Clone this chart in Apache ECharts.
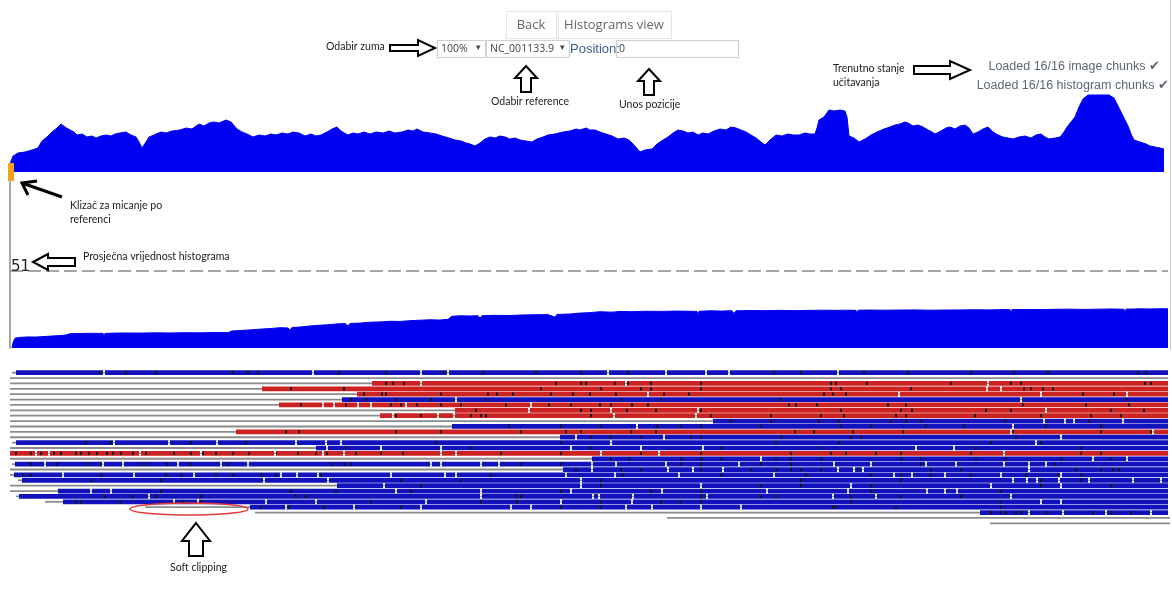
<!DOCTYPE html>
<html><head><meta charset="utf-8">
<script src="https://cdn.jsdelivr.net/npm/echarts@6/dist/echarts.min.js"></script>
<style>html,body{margin:0;padding:0;background:#fff}#c{width:1172px;height:601px}</style>
</head><body><div id="c"></div>
<script>
// ---------- DATA ----------
// Coverage overview (top): position along reference, coverage height
const topPos = [10,13,18,25,32,38,42,47,52,57,61,65,70,74,77,82,87,92,96,101,106,111,115,120,126,131,136,139,142,146,149,154,161,166,172,180,186,192,199,204,209,214,219,226,231,237,242,247,253,259,265,271,276,282,288,293,299,305,311,316,321,327,332,337,341,348,353,358,364,370,376,383,389,395,402,408,413,417,423,430,436,442,449,455,461,466,470,475,480,485,490,495,500,505,510,515,520,526,532,537,543,548,555,563,570,576,580,586,590,595,600,606,612,618,624,629,634,640,645,652,657,663,668,673,678,683,688,693,698,703,708,714,720,726,731,736,741,746,751,756,761,765,770,776,782,788,793,799,805,810,815,817,819,824,829,834,840,845,847,849,854,859,865,871,877,884,890,895,900,905,908,913,918,923,928,932,935,941,946,950,955,960,965,969,973,978,983,988,993,998,1003,1008,1013,1019,1025,1031,1036,1041,1045,1049,1055,1060,1064,1067,1071,1075,1079,1083,1088,1095,1102,1109,1114,1117,1121,1125,1128,1131,1134,1140,1146,1150,1155,1160,1164];
const topCov = [8,16,19,20,22,24,31,35,40,44,48,45,42,40,37,38,35,36,34,36,37,36,38,39,40,37,35,30,24,30,35,37,40,39,41,42,44,43,48,46,49,50,49,52,50,43,40,38,35,37,36,38,37,39,38,40,39,36,38,36,37,40,43,45,41,37,39,38,40,38,40,39,41,39,40,42,41,43,40,39,38,36,34,32,31,29,28,26,29,33,35,34,36,35,33,34,32,31,30,33,35,37,38,40,41,43,42,44,42,42,40,38,36,33,34,32,27,20,22,23,28,32,35,39,42,41,39,40,37,39,38,41,43,42,45,44,42,40,37,34,30,27,32,37,36,38,37,37,39,38,38,44,52,55,62,61,62,61,55,36,34,30,33,37,40,43,45,47,48,50,49,46,47,45,42,40,38,41,44,45,43,46,47,44,38,40,43,45,40,37,35,34,33,35,36,34,37,38,35,33,34,35,40,45,50,55,65,73,77,77,77,77,74,68,60,52,46,38,32,30,28,26,25,24,23];

// Lower histogram (current window)
const histPos = [12,13,15,20,28,36,45,55,62,66,70,80,90,100,103,104,105,115,125,140,155,170,185,200,215,228,232,242,252,262,272,280,288,290,292,300,310,320,330,338,345,348,350,360,370,380,390,400,410,420,430,440,448,452,460,470,478,480,482,495,510,520,535,548,555,557,570,580,590,600,612,620,632,645,660,675,690,697,698,699,710,722,732,734,736,750,765,780,795,810,822,835,848,856,857,858,870,885,900,915,930,945,960,975,990,1002,1010,1011,1012,1025,1040,1055,1070,1085,1100,1112,1124,1125,1126,1140,1150,1160,1168];
const histVal = [0,3.5,6.5,7,7.3,7.2,7.6,8,8.3,8.6,9.4,9.5,9.7,9.6,9.7,7.5,9.6,9.8,9.9,9.8,10,9.9,10.1,10,10.2,10.1,11.2,11.6,12,12.5,12.9,13.4,13.2,11.8,13.5,13.8,14.5,15,15.4,15.9,16.1,14.6,16.2,16.4,17,17.2,17.6,17.5,18,18.3,18.6,18.4,18.9,20.9,21.2,21.1,21.3,19.6,21.3,21.5,21.4,21.7,21.9,22,20.3,22.1,22.4,23,23.3,23.9,23.6,24.1,23.9,24.2,24.1,24.3,24.2,24.1,21,24.2,24.5,24.3,24.6,22.6,24.5,24.7,24.6,24.8,24.6,24.8,24.9,24.8,24.9,24.8,22.2,24.9,25,24.9,25,25.1,24.9,25,25.1,25.2,25.1,25.3,25.2,22.5,25.3,25.4,25.3,25.5,25.6,25.4,25.6,25.7,25.5,22.8,25.6,25.8,25.7,25.9,25.8];
const histMean = 51;

// Reads (one entry per row): soft-clip span, aligned span, strand
const clipStart = [12,10,10,10,10,10,10,10,10,10,10,10,10,12,10,null,10,12,10,10,18,10,10,16,45,145,255,667,990];
const clipEnd   = [16,1168,372,262,357,342,279,455,380,713,452,236,560,16,316,null,592,15,563,14,22,337,58,19,63,250,980,1170,1170];
const readStart = [16,null,372,262,357,342,279,455,380,713,452,236,560,16,316,10,592,15,563,14,22,337,58,19,63,250,980,null,null];
const readEnd   = [1168,null,1168,1168,1168,1168,1168,1168,1168,1168,1168,1168,1168,1168,1168,1168,1168,1168,1168,1168,1168,1168,1168,1168,1168,1168,1168,null,null];
const strand    = ['F','','R','R','R','F','R','R','R','F','F','R','F','F','F','R','F','F','F','F','F','F','F','F','F','F','F','',''];
// Mismatch positions per row
const mismatches = [
 [99,125,155,232,247,257,338,385,443,482,535,580,627,773,800,863,907,970,1013,1047,1137,1145],[],
 [385,392,403,555,580,585,614,627,650,700,830,835,866,950,1010,1020,1144,1150],
 [290,343,540,600,640,650,700,830,840,910,1023,1030,1042,1052],
 [363,381,385,440,487,496,512,550,572,589,615,663,688,823,832,845,1082,1113],
 [350,365,395,430,485,620,660,780,1125],
 [300,345,390,400,416,440,460,505,548,570,599,610,631,647,788,795,816,887,905,1022,1085,1128],
 [475,580,590,626,655,700,840,900,911,985,1010,1110,1143],
 [395,420,470,480,485,590,710,770,820,843,895,905,974,1040,1090,1120],
 [730,770,818,838,890,905,920,1004,1088],
 [508,560,600,656,680,700,760,840,870,925,963,1045,1100],
 [285,298,395,440,520,565,580,630,655,794,813,852,902,1012,1100,1150],
 [590,610,640,690,700,780,850,860,1015,1060],
 [85,110,190,245,435,560,775,838,990,1040],
 [345,470,590,720,820,975,1080],
 [15,30,40,53,60,75,80,88,96,106,112,120,132,145,173,190,202,215,232,248,275,297,315,326,355,380,402,440,500,560,640,700,790,830,845,875,900,970,1080,1100],
 [610,628,680,700,720,775,790,820,900,920,975,1005,1060,1110],
 [30,56,87,100,143,166,189,226,330,343,350,430,520,560,680,700,760,790,870,920,1053],
 [575,620,640,700,750,776,790,800,820,857,930,960,1075,1100,1112,1118],
 [22,30,100,165,180,215,232,260,275,320,490,622,720,805,870,900,930,970,1025,1057,1080],
 [90,160,400,460,600,800,900,1040,1080],
 [420,600,760,800,870,1040,1110],
 [160,290,335,410,560,650,700,870,945,1000],
 [104,132,155,200,295,305,480,515,520,700,760,775,850,900,960],
 [75,80,120,182,200,370,480,516,600,660,680,700,850,1000],
 [260,288,323,400,560,600,832,835,895,1000],
 [990,1000,1005,1015,1020,1045,1092,1110,1130],[],[]
];
// Read boundaries (white breaks) per row
const breaks = [
 [103,312,420,447,607,665,705,728,837],[],
 [420,625,987],[986,1000],[647,898,1040,1126],[455,1020],
 [322,333,357,370,405,530],[528,610,697,1045],[392,437,453,613,695],
 [1043,1064,1073,1122],[636,1012],[1010,1152],[575,663,1060],
 [113,168,216,295,325,340,610,1035],[326,380,440,570,640,702,915,953],
 [35,48,139,200,274,322,343,440,455,600,658,1003],[760,1092,1126],
 [44,102,122,177,220,247,430,440,480,498,591,615,665,738,833,870,925,955,1003,1028,1045],
 [591,667,692,722,837,853,862,1028],
 [62,133,193,280,296,317,390,444,455,565,614,678,773,893,911,944,1000,1060],
 [263,327,580,1012,1026,1036,1058,1088,1132,1160],[383,580,700,850,990,1060],
 [90,110,395,480,570,661,766,847,926,944,956],[148,480,592,598,632,706,832,875,1010],
 [173,197,265,315,425,560,631,1040,1060],[285,353,420,510,530,625,651,700,740],
 [1028,1062,1105,1150],[],[]
];

// ---------- BUILD ----------
const topData = topPos.map((p, i) => [p, topCov[i]]);
const histData = histPos.map((p, i) => [p, histVal[i]]);
const readData = [];
for (let r = 0; r < strand.length; r++) {
  if (clipStart[r] !== null) readData.push([r, clipStart[r], clipEnd[r], 0]);
  if (strand[r]) readData.push([r, readStart[r], readEnd[r], strand[r] === 'F' ? 1 : 2]);
  mismatches[r].forEach(p => readData.push([r, p, p + 2, 3]));
  breaks[r].forEach(p => readData.push([r, p, p + 2, 4]));
}
const COL_F = '#1212bd', COL_R = '#cc2222';

function renderRead(params, api) {
  const row = api.value(0), x0 = api.value(1), x1 = api.value(2), k = api.value(3);
  const a = api.coord([x0, row]), b = api.coord([x1, row]);
  const h = api.size([0, 1])[1];
  if (k === 0) return {type: 'rect', shape: {x: a[0], y: a[1] - 0.9, width: b[0] - a[0], height: 1.8}, style: {fill: '#8c8c8c'}};
  if (k === 1 || k === 2) return {type: 'rect', shape: {x: a[0], y: a[1] - h * 0.44, width: b[0] - a[0], height: h * 0.88}, style: {fill: k === 1 ? COL_F : COL_R}};
  if (k === 3) return {type: 'rect', shape: {x: a[0], y: a[1] - h * 0.3, width: 2, height: h * 0.6}, style: {fill: '#141414'}};
  return {type: 'group', children: [
    {type: 'rect', shape: {x: a[0], y: a[1] - h * 0.45, width: 2, height: h * 0.9}, style: {fill: '#ffffff'}},
    {type: 'rect', shape: {x: a[0], y: a[1] - 0.6, width: 2, height: 1.2}, style: {fill: '#9a9a9a'}}
  ]};
}

const ann = {fontFamily: 'Lato', fontSize: 10.5, fill: '#222'};
function txt(x, y, s, extra) { return {type: 'text', x: x, y: y, style: Object.assign({text: s, verticalAlign: 'middle'}, ann, extra || {}), z: 100}; }
function poly(pts) { return {type: 'polygon', shape: {points: pts}, style: {fill: '#fff', stroke: '#000', lineWidth: 2}, z: 100}; }

const graphic = [
  // UI controls
  {type: 'rect', shape: {x: 506.5, y: 11.5, width: 50, height: 27}, style: {fill: '#fff', stroke: '#e4e4e4'}, z: 50},
  {type: 'rect', shape: {x: 558.5, y: 11.5, width: 113, height: 27}, style: {fill: '#fff', stroke: '#e4e4e4'}, z: 50},
  {type: 'text', x: 531, y: 25, style: {text: 'Back', fontFamily: 'Open Sans', fontSize: 13, fill: '#666', align: 'center', verticalAlign: 'middle'}, z: 51},
  {type: 'text', x: 614, y: 25, style: {text: 'Histograms view', fontFamily: 'Open Sans', fontSize: 13, fill: '#666', align: 'center', verticalAlign: 'middle'}, z: 51},
  {type: 'rect', shape: {x: 437.5, y: 40.5, width: 48, height: 17}, style: {fill: '#fff', stroke: '#cfcfcf'}, z: 50},
  {type: 'rect', shape: {x: 486.5, y: 40.5, width: 83, height: 17}, style: {fill: '#fff', stroke: '#cfcfcf'}, z: 50},
  {type: 'text', x: 441, y: 49, style: {text: '100%', fontFamily: 'Open Sans', fontSize: 10.5, fill: '#444', verticalAlign: 'middle'}, z: 51},
  {type: 'text', x: 476, y: 48, style: {text: '▾', fontFamily: 'DejaVu Sans', fontSize: 9, fill: '#444', verticalAlign: 'middle'}, z: 51},
  {type: 'text', x: 490, y: 49, style: {text: 'NC_001133.9', fontFamily: 'Open Sans', fontSize: 10.5, fill: '#444', verticalAlign: 'middle'}, z: 51},
  {type: 'text', x: 560, y: 48, style: {text: '▾', fontFamily: 'DejaVu Sans', fontSize: 9, fill: '#444', verticalAlign: 'middle'}, z: 51},
  {type: 'text', x: 570, y: 49, style: {text: 'Position:', fontFamily: 'Liberation Sans', fontSize: 13, fill: '#3f5f8c', verticalAlign: 'middle'}, z: 51},
  {type: 'rect', shape: {x: 616.5, y: 40.5, width: 122, height: 17}, style: {fill: '#fff', stroke: '#cfcfcf'}, z: 50},
  {type: 'text', x: 619, y: 49, style: {text: '0', fontFamily: 'Open Sans', fontSize: 10.5, fill: '#444', verticalAlign: 'middle'}, z: 51},
  {type: 'text', x: 1160, y: 67, style: {text: 'Loaded 16/16 image chunks ✔', fontFamily: 'Liberation Sans', fontSize: 12.5, fill: '#5d6773', align: 'right', verticalAlign: 'middle'}, z: 51},
  {type: 'text', x: 1169, y: 86, style: {text: 'Loaded 16/16 histogram chunks ✔', fontFamily: 'Liberation Sans', fontSize: 12.5, fill: '#5d6773', align: 'right', verticalAlign: 'middle'}, z: 51},
  // frame lines
  {type: 'line', shape: {x1: 1170.5, y1: 0, x2: 1170.5, y2: 350}, style: {stroke: '#c8c8c8', lineWidth: 1}, z: 40},
  // slider
  {type: 'rect', shape: {x: 8, y: 163, width: 6, height: 18}, style: {fill: '#f5a11c'}, z: 60},
  // annotations
  txt(326, 47, 'Odabir zuma'),
  poly([[390,45],[418,45],[418,40],[435,48],[418,56],[418,51],[390,51]]),
  poly([[526,66],[537,78],[531,78],[531,92],[521,92],[521,78],[515,78]]),
  txt(491, 102, 'Odabir reference'),
  poly([[649,69],[660,81],[654,81],[654,95],[644,95],[644,81],[638,81]]),
  txt(619, 105, 'Unos pozicije'),
  txt(833, 69, 'Trenutno stanje'),
  txt(833, 83, 'učitavanja'),
  poly([[914,66],[950,66],[950,61],[970,70],[950,79],[950,74],[914,74]]),
  {type: 'polyline', shape: {points: [[62,197],[22,183]]}, style: {stroke: '#000', lineWidth: 3, fill: null}, z: 100},
  {type: 'polyline', shape: {points: [[37,181],[22,183],[28,195]]}, style: {stroke: '#000', lineWidth: 3, fill: null}, z: 100},
  txt(70, 206, 'Klizač za micanje po'),
  txt(70, 220, 'referenci'),
  txt(83, 257, 'Prosječna vrijednost histograma'),
  poly([[33,262],[48,254],[48,258],[75,258],[75,266],[48,266],[48,270]]),
  {type: 'ellipse', shape: {cx: 189, cy: 509, rx: 59, ry: 6}, style: {fill: null, stroke: '#e03a3a', lineWidth: 1.5}, z: 100},
  poly([[196,523],[210,541],[203,541],[203,556],[189,556],[189,541],[182,541]]),
  txt(170, 568, 'Soft clipping')
];

const chart = echarts.init(document.getElementById('c'));
chart.setOption({
  animation: false,
  backgroundColor: '#fff',
  grid: [
    {left: 10, width: 1158, top: 90, height: 82},
    {left: 10, width: 1158, top: 181, height: 167},
    {left: 10, width: 1158, top: 370, height: 156}
  ],
  xAxis: [
    {gridIndex: 0, type: 'value', min: 10, max: 1168, show: false},
    {gridIndex: 1, type: 'value', min: 10, max: 1168, show: false},
    {gridIndex: 2, type: 'value', min: 10, max: 1168, show: false}
  ],
  yAxis: [
    {gridIndex: 0, type: 'value', min: 0, max: 82, show: false},
    {gridIndex: 1, type: 'value', min: 0, max: 110, axisLine: {show: true, lineStyle: {color: '#8a8a8a', width: 1.5}}, axisTick: {show: false}, axisLabel: {show: false}, splitLine: {show: false}},
    {gridIndex: 2, type: 'value', min: -0.5, max: 28.5, inverse: true, show: false}
  ],
  graphic: graphic,
  series: [
    {type: 'line', xAxisIndex: 0, yAxisIndex: 0, data: topData, showSymbol: false, symbol: 'none',
     lineStyle: {color: '#0000f2', width: 1}, areaStyle: {color: '#0000f2', opacity: 1}},
    {type: 'line', xAxisIndex: 1, yAxisIndex: 1, data: histData, showSymbol: false, symbol: 'none',
     lineStyle: {color: '#0000ee', width: 1}, areaStyle: {color: '#0000ee', opacity: 1},
     markLine: {silent: true, symbol: 'none', data: [{yAxis: histMean}],
       lineStyle: {color: '#888', type: [13, 5], width: 1.5},
       label: {show: true, position: 'insideStartTop', formatter: '{c}', color: '#222', fontSize: 15, fontFamily: 'DejaVu Sans', distance: [2, 0], offset: [-1, 4]}}},
    {type: 'custom', xAxisIndex: 2, yAxisIndex: 2, data: readData, renderItem: renderRead,
     encode: {x: [1, 2], y: 0}, clip: false}
  ]
});
</script></body></html>
